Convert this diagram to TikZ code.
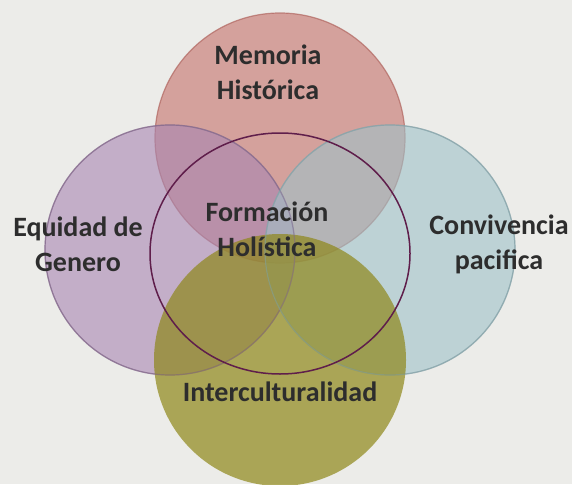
\documentclass[tikz,border=0pt]{standalone}
\usepackage{fontspec}
\setmainfont{Carlito}
\usepackage{tikz}

\definecolor{paper}{RGB}{236,236,233}
\definecolor{memcol}{RGB}{196,112,106}
\definecolor{eqcol}{RGB}{168,134,178}
\definecolor{convcol}{RGB}{159,193,200}
\definecolor{intcol}{RGB}{142,135,25}
\definecolor{ringcol}{RGB}{95,30,75}
\definecolor{txtcol}{RGB}{45,45,45}

\begin{document}
\begin{tikzpicture}[x=1pt,y=-1pt,
                    area/.style={fill opacity=0.6,draw opacity=0.7,line width=1.2pt},
                    label/.style={align=center,text=txtcol,font=\fontsize{28}{35}\selectfont\bfseries}
                ]
                    \fill[paper] (0,0) rectangle (572,484);
                    \useasboundingbox (0,0) rectangle (572,484);

                    \fill[memcol,area,draw=memcol!90!black] (280,138) circle (125);
                    \fill[eqcol,area,draw=eqcol!80!black] (170,250) circle (125);
                    \fill[convcol,area,draw=convcol!85!black] (390,250) circle (125);
                    \fill[intcol,area,fill opacity=0.7,draw=none] (280,360) circle (126);
                    % edges stay visible over the bottom circle
                    \draw[eqcol!80!black,line width=1.2pt,draw opacity=0.5] (170,250) circle (125);
                    \draw[convcol!85!black,line width=1.2pt,draw opacity=0.5] (390,250) circle (125);

                    \draw[ringcol,line width=1.5pt] (280,253.5) ellipse (130 and 120.5);

                    \node[label] (memoria) at (268,72) {Memoria\\Histórica};
                    \node[label] (equidad) at (78,244) {Equidad de\\Genero};
                    \node[label] (convivencia) at (499,244) {Convivencia\\pacifica};
                    \node[label] (formacion) at (267,229) {Formación\\Holística};
                    \node[label] (intercultural) at (280,392) {Interculturalidad};

                \end{tikzpicture}
\end{document}
